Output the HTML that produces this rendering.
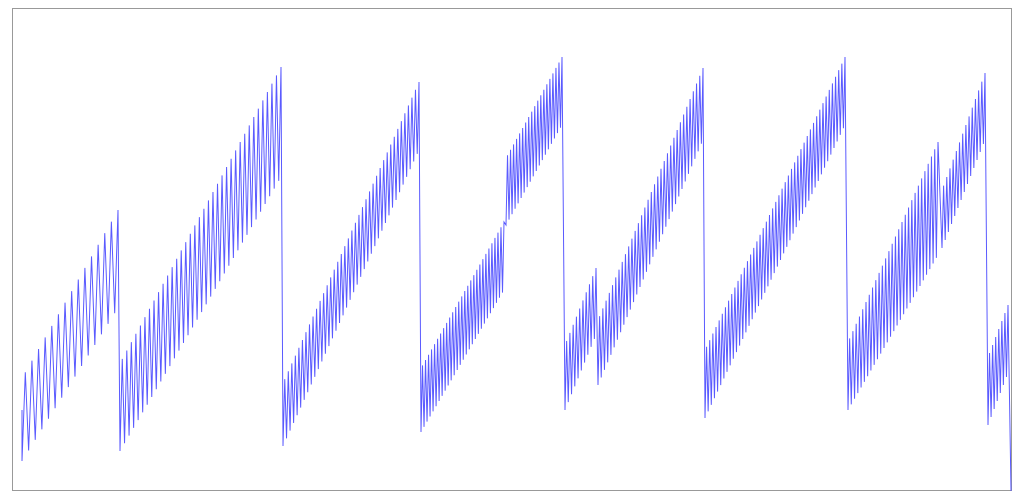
<!DOCTYPE html>
<html><head><meta charset="utf-8">
<style>
html,body{margin:0;padding:0;background:#fff;width:1024px;height:500px;overflow:hidden;font-family:"Liberation Sans",sans-serif;}
svg{display:block}
</style></head>
<body>
<svg id="chart" width="1024" height="500" viewBox="0 0 1024 500" xmlns="http://www.w3.org/2000/svg">
<rect x="12.5" y="8.5" width="999" height="482" fill="#fff" stroke="#999" stroke-width="1"/>
<path id="line" fill="none" stroke="#5a5aff" stroke-width="1" stroke-linejoin="miter"/>
</svg>
<script>
// segment start/end positions (x data units)
const segStart = [10,108,271,409,494,553,586,693,836,930,976];
const segEnd   = [106,269,407,492,550,584,691,833,926,973,996];
// envelope values (y data units)
const lowStart  = [30,40,45,59,266,81,106,73,81,243,66];
const lowEnd    = [183,314,341,201,366,156,351,366,236,351,118];
const highStart = [113,128,108,123,333,146,171,141,149,301,134];
const highEnd   = [281,424,409,269,434,223,423,434,349,418,186];
const cyclePeriod = [6.5,4.5,3.5,3,3,3.2,3.2,3.1,3.2,3,3];
const startValue = 81;
const endPoint = [999,0];

function xScale(v){return 12 + v;}
function yScale(v){return 491 - v*(483/483);}

const pts = [[xScale(segStart[0]), yScale(startValue)]];
for(let s=0;s<segStart.length;s++){
  const n = Math.max(1, Math.round((segEnd[s]-segStart[s])/cyclePeriod[s]));
  const m = 2*n;
  for(let k=0;k<m;k++){
    const t = k/(m-1);
    const xv = segStart[s] + t*(segEnd[s]-segStart[s]);
    const yv = (k%2===0) ? lowStart[s] + t*(lowEnd[s]-lowStart[s])
                         : highStart[s] + t*(highEnd[s]-highStart[s]);
    pts.push([xScale(xv), yScale(yv)]);
  }
}
pts.push([xScale(endPoint[0]), yScale(endPoint[1])]);
document.getElementById('line').setAttribute('d', 'M' + pts.map(p=>p[0].toFixed(2)+','+p[1].toFixed(2)).join('L'));
</script>
</body></html>
